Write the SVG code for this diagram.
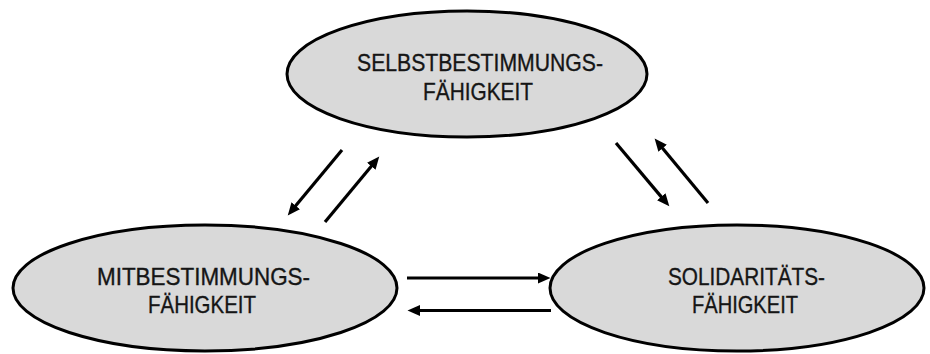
<svg xmlns="http://www.w3.org/2000/svg" width="930" height="354" viewBox="0 0 930 354">
<style>
.node ellipse{fill:#d9d9d9;stroke:#000;stroke-width:3}
.node text{font-family:"Liberation Sans",Arial,sans-serif;font-size:24px;fill:#151515;stroke:#151515;stroke-width:0.35;text-anchor:middle}
.conn line{stroke:#000;stroke-width:3.2;marker-end:url(#ah)}
</style>
<defs>
<marker id="ah" markerUnits="userSpaceOnUse" markerWidth="13" markerHeight="11" refX="3" refY="5.5" orient="auto">
<path d="M0,0 L12.5,5.5 L0,11 z" fill="#000"/>
</marker>
</defs>
<rect width="930" height="354" fill="#fff"/>
<g id="selbst" class="node">
<ellipse cx="467" cy="74" rx="180" ry="63"/>
<text x="480" y="71" textLength="246" lengthAdjust="spacingAndGlyphs">SELBSTBESTIMMUNGS-</text>
<text x="478" y="100" textLength="110" lengthAdjust="spacingAndGlyphs">FÄHIGKEIT</text>
</g>
<g id="mit" class="node">
<ellipse cx="205" cy="288" rx="192" ry="63"/>
<text x="203.5" y="285" textLength="213" lengthAdjust="spacingAndGlyphs">MITBESTIMMUNGS-</text>
<text x="202" y="313" textLength="108" lengthAdjust="spacingAndGlyphs">FÄHIGKEIT</text>
</g>
<g id="soli" class="node">
<ellipse cx="737" cy="288" rx="187" ry="63"/>
<text x="746.5" y="285" textLength="157" lengthAdjust="spacingAndGlyphs">SOLIDARITÄTS-</text>
<text x="745" y="313" textLength="106" lengthAdjust="spacingAndGlyphs">FÄHIGKEIT</text>
</g>
<g id="connectors" class="conn">
<line x1="342" y1="150" x2="293.8" y2="208.1"/>
<line x1="325" y1="222" x2="373.2" y2="163.9"/>
<line x1="616" y1="143" x2="663.2" y2="199.1"/>
<line x1="708" y1="203" x2="660.7" y2="145.9"/>
<line x1="407" y1="278" x2="541" y2="278"/>
<line x1="551" y1="310.5" x2="417" y2="310.5"/>
</g>
</svg>
